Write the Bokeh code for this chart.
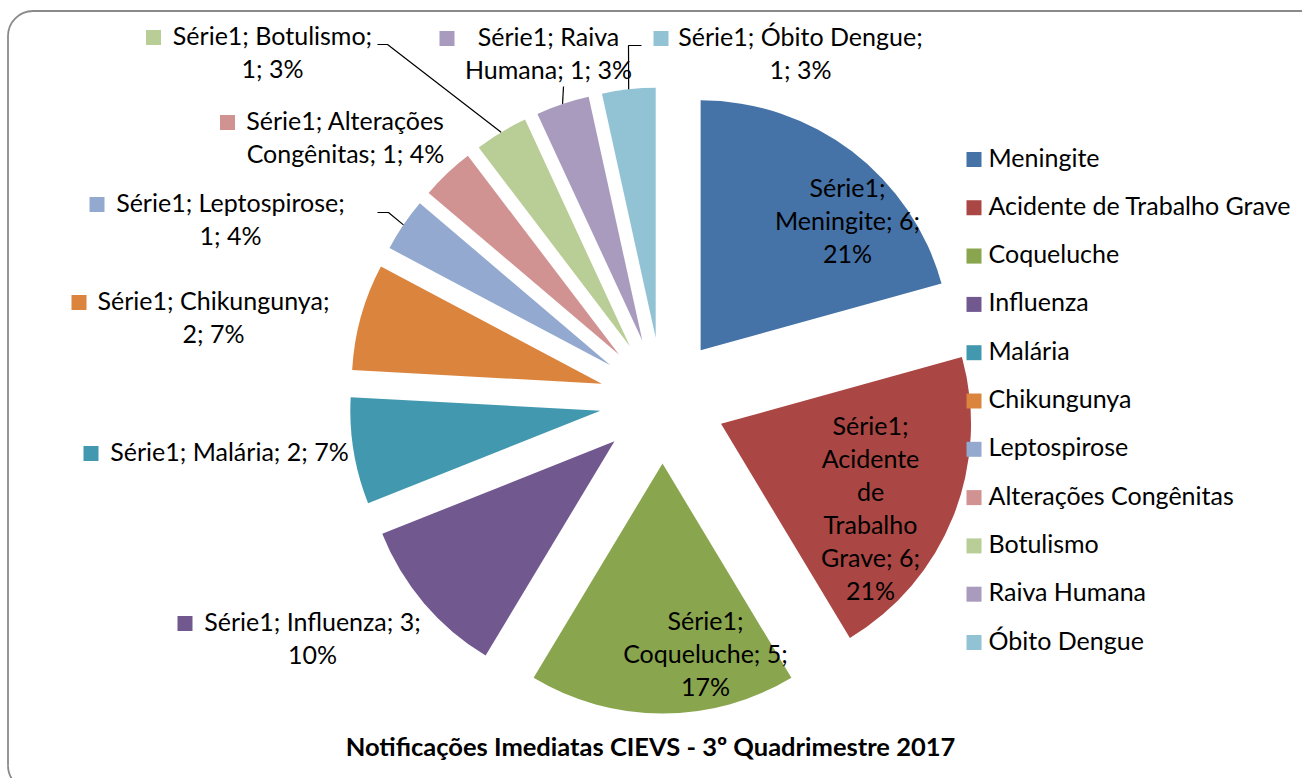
import numpy as np
import textwrap
from bokeh.plotting import figure
from bokeh.models import Range1d, ColumnDataSource
from bokeh.core.properties import value
from bokeh.embed import file_html
from bokeh.resources import INLINE

# ---------------- data ----------------
series_name = "Série1"
categories = ["Meningite", "Acidente de Trabalho Grave", "Coqueluche", "Influenza",
              "Malária", "Chikungunya", "Leptospirose", "Alterações Congênitas",
              "Botulismo", "Raiva Humana", "Óbito Dengue"]
counts = [6, 6, 5, 3, 2, 2, 1, 1, 1, 1, 1]
pct_labels = ["21%", "21%", "17%", "10%", "7%", "7%", "4%", "4%", "3%", "3%", "3%"]
colors = ["#4572A7", "#AA4643", "#89A54E", "#71588F", "#4198AF", "#DB843D",
          "#93A9CF", "#D19392", "#B9CD96", "#A99BBD", "#92C3D5"]
title_text = "Notificações Imediatas CIEVS - 3º Quadrimestre 2017"

# ---------------- layout ----------------
W, H = 1302, 778
FONT = "Lato"
FS = "25px"
TXT_SHIFT = -3  # Lato sits a little low with 'middle' baseline


def dx(x):  # page pixel -> data x
    return x


def dy(y):  # page pixel -> data y
    return H - y


def ty(y):  # text anchor y
    return dy(y + TXT_SHIFT)


CX, CY = dx(662), dy(400)
R = 250
EXPLODE = 63
LINE_STEP = 33

wrap_widths = [13, 9, 14, 21, 22, 20, 21, 18, 18, 13, 21]
# label anchors (page px): centre x of lines, y of first line
label_anchor = [(847, 189), (870, 427), (705, 622), (312, 623), (229, 453), (213, 302),
                (230, 204), (345, 122), (272, 37), (548, 38), (800, 38)]
# legend key centres beside outside labels (page px)
key_pos = {3: 184.5, 4: 90.5, 5: 78.5, 6: 96.5, 7: 227, 8: 153, 9: 446.5, 10: 660.5}
# leader line start points (page px) on label side
leader_start = {8: [(377, 44), (387, 44)], 9: [(563, 86)], 10: [(641, 45), (628, 45)],
                6: [(377, 212), (388, 212)]}

# ---------------- geometry ----------------
vals = np.array(counts, dtype=float)
frac = vals / vals.sum()
cum = np.concatenate([[0], np.cumsum(frac)])
a_start = np.pi / 2 - 2 * np.pi * cum[:-1]
a_end = np.pi / 2 - 2 * np.pi * cum[1:]
a_mid = (a_start + a_end) / 2
wx = CX + EXPLODE * np.cos(a_mid)
wy = CY + EXPLODE * np.sin(a_mid)

p = figure(width=W, height=H, x_range=Range1d(0, W), y_range=Range1d(0, H),
           output_backend="svg", toolbar_location=None, min_border=0,
           x_axis_type=None, y_axis_type=None)
p.grid.visible = False
p.outline_line_color = None
p.background_fill_color = "white"

# chart border (rounded top-left / bottom-left corners; right and bottom run off the page)
BL, BT, BR, BB, RAD = 7.5, 10.5, 1400, 790, 25
BC = "#8a8a8a"
p.line([dx(BL + RAD), dx(BR)], [dy(BT), dy(BT)], line_color=BC, line_width=1.8)
p.line([dx(BL), dx(BL)], [dy(BT + RAD), dy(BB - RAD)], line_color=BC, line_width=1.8)
p.arc(x=[dx(BL + RAD), dx(BL + RAD)], y=[dy(BT + RAD), dy(BB - RAD)], radius=RAD,
      start_angle=[np.pi / 2, np.pi], end_angle=[np.pi, 1.5 * np.pi],
      line_color=BC, line_width=1.8)

src = ColumnDataSource(dict(x=wx, y=wy, s=a_end, e=a_start, c=colors))
p.wedge(x="x", y="y", radius=R, start_angle="s", end_angle="e", direction="anticlock",
        fill_color="c", line_color=None, source=src)

# leader lines
for i, pts in leader_start.items():
    ex = wx[i] + R * np.cos(a_mid[i])
    ey = wy[i] + R * np.sin(a_mid[i])
    xs = [dx(a) for a, b in pts] + [ex]
    ys = [dy(b) for a, b in pts] + [ey]
    p.line(xs, ys, line_color="black", line_width=1.2)

# data labels
lx, ly, lt = [], [], []
for i, cat in enumerate(categories):
    full = f"{series_name}; {cat}; {counts[i]}; {pct_labels[i]}"
    lines = textwrap.wrap(full, width=wrap_widths[i])
    ax, ay = label_anchor[i]
    for k, ln in enumerate(lines):
        lx.append(dx(ax))
        ly.append(ty(ay + k * LINE_STEP))
        lt.append(ln)
p.text(x=lx, y=ly, text=lt, text_align="center", text_baseline="middle",
       text_font=value(FONT), text_font_size=FS, text_color="black")

# keys next to outside labels
kx = [dx(key_pos[i]) for i in key_pos]
ky = [dy(label_anchor[i][1]) for i in key_pos]
kc = [colors[i] for i in key_pos]
p.scatter(x=kx, y=ky, marker="square", size=15, fill_color=kc, line_color=None)

# legend
LEG_X, LEG_Y0, LEG_STEP = 973.5, 159, 48.3
rows = [LEG_Y0 + i * LEG_STEP for i in range(len(categories))]
p.scatter(x=[dx(LEG_X)] * len(categories), y=[dy(r) for r in rows], marker="square",
          size=15, fill_color=colors, line_color=None)
p.text(x=[dx(988)] * len(categories), y=[ty(r) for r in rows], text=categories,
       text_align="left", text_baseline="middle", text_font=value(FONT),
       text_font_size=FS, text_color="black")

# title
p.text(x=[dx(650)], y=[ty(748)], text=[title_text], text_align="center",
       text_baseline="middle", text_font=value(FONT), text_font_size="25.5px",
       text_font_style="bold", text_color="black")

open("out.html", "w").write(file_html(p, INLINE))
